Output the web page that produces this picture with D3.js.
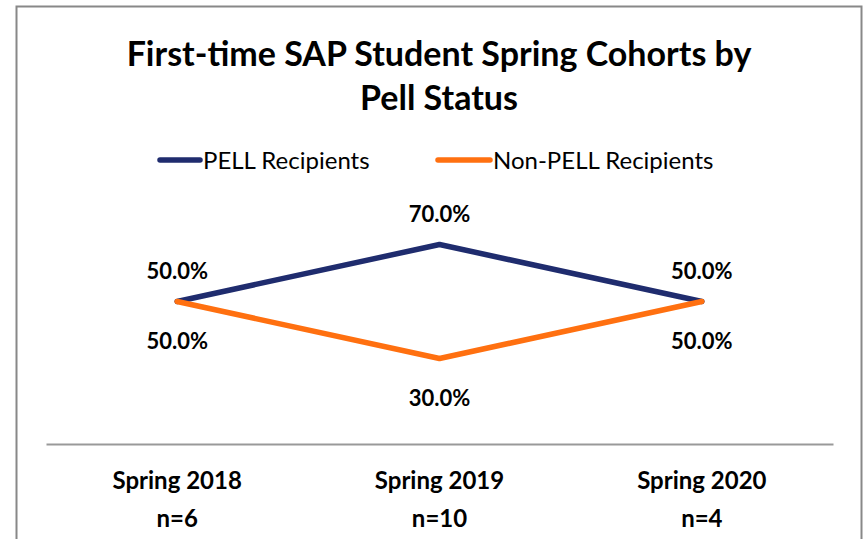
<!DOCTYPE html>
<html>
<head>
<meta charset="utf-8">
<title>SAP Spring Cohorts by Pell Status</title>
<script src="https://d3js.org/d3.v7.min.js"></script>
<style>
  body { margin:0; background:#fff; }
  text { font-family: Lato, "Open Sans", sans-serif; }
</style>
</head>
<body>
<svg width="865" height="539" id="chart"></svg>
<script>
// data
const terms = ['Spring 2018', 'Spring 2019', 'Spring 2020'];
const counts = ['n=6', 'n=10', 'n=4'];
const pell = [50.0, 70.0, 50.0];
const nonPell = [50.0, 30.0, 50.0];
const seriesNames = ['PELL Recipients', 'Non-PELL Recipients'];
const colors = ['#1f2c6e', '#ff7010'];

const svg = d3.select('#chart');
const width = +svg.attr('width');
const height = +svg.attr('height');

// outer frame (bottom edge runs off the picture)
svg.append('rect')
  .attr('x', 16.5).attr('y', 6.5)
  .attr('width', 845).attr('height', 560)
  .attr('fill', '#fff')
  .attr('stroke', '#888').attr('stroke-width', 2);

// title
const title = svg.append('text')
  .attr('text-anchor', 'middle')
  .attr('font-size', 34).attr('font-weight', 'bold').attr('fill', '#000');
title.append('tspan').attr('x', 439).attr('y', 66).text('First-time SAP Student Spring Cohorts by');
title.append('tspan').attr('x', 439).attr('y', 110).text('Pell Status');

const margin = {left:46, right:32, top:159, bottom:95};
const innerwidth = width - margin.left - margin.right;
const axisY = height - margin.bottom;

const xscale = d3.scalePoint()
  .domain(terms)
  .range([margin.left, margin.left + innerwidth])
  .padding(0.5);

const yscale = d3.scaleLinear()
  .domain([0, 100])
  .range([axisY, margin.top]);

// category axis
const xaxis = d3.axisBottom(xscale).tickSize(0).tickFormat('');
const gx = svg.append('g')
  .attr('transform', `translate(0,${axisY})`)
  .call(xaxis);
gx.select('.domain').attr('stroke', '#999').attr('stroke-width', 2);

terms.forEach((t, i) => {
  const lab = svg.append('text')
    .attr('text-anchor', 'middle')
    .attr('font-size', 24).attr('font-weight', 'bold').attr('fill', '#000');
  lab.append('tspan').attr('x', xscale(t)).attr('y', 489).text(t);
  lab.append('tspan').attr('x', xscale(t)).attr('y', 527).text(counts[i]);
});

// lines
const line = d3.line()
  .x((d, i) => xscale(terms[i]))
  .y(d => yscale(d));

const series = [pell, nonPell];
series.forEach((vals, s) => {
  svg.append('path')
    .datum(vals)
    .attr('d', line)
    .attr('fill', 'none')
    .attr('stroke', colors[s])
    .attr('stroke-width', 5.5)
    .attr('stroke-linecap', 'round')
    .attr('stroke-linejoin', 'round');
});

// data labels: PELL above, Non-PELL below
series.forEach((vals, s) => {
  svg.selectAll(null)
    .data(vals)
    .enter()
    .append('text')
    .attr('x', (d, i) => xscale(terms[i]))
    .attr('y', d => s === 0 ? yscale(d) - 23 : yscale(d) + 47)
    .attr('text-anchor', 'middle')
    .attr('font-size', 22).attr('font-weight', 'bold').attr('fill', '#000')
    .text(d => d.toFixed(1) + '%');
});

// legend
const legendX = [158, 436];
const legendLen = [42, 54];
seriesNames.forEach((name, s) => {
  const g = svg.append('g').attr('transform', `translate(${legendX[s]},160)`);
  g.append('line')
    .attr('x1', 2).attr('x2', legendLen[s]).attr('y1', 0).attr('y2', 0)
    .attr('stroke', colors[s]).attr('stroke-width', 5.5)
    .attr('stroke-linecap', 'round');
  g.append('text')
    .attr('x', legendLen[s] + 3).attr('y', 9)
    .attr('font-size', 24).attr('fill', '#000')
    .text(name);
});
</script>
</body>
</html>
